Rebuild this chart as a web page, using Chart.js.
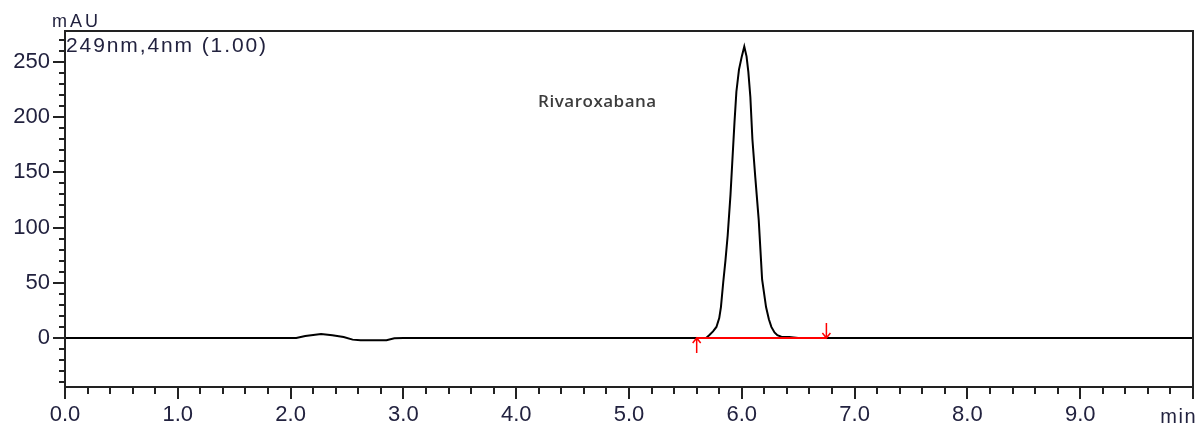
<!DOCTYPE html>
<html>
<head>
<meta charset="utf-8">
<script src="https://cdn.jsdelivr.net/npm/chart.js@4/dist/chart.umd.min.js"></script>
<style>
  html, body { margin: 0; padding: 0; background: #fff; }
  #wrap { width: 1197px; height: 425px; }
</style>
</head>
<body>
<div id="wrap"><canvas id="chrom"></canvas></div>
<script>
// retention time (min) and absorbance (mAU) of the trace
var times = [0, 2.05, 2.13, 2.27, 2.37, 2.47, 2.55, 2.62, 2.85, 2.92, 3.0,
    5.6, 5.686, 5.713, 5.745, 5.775, 5.80, 5.815, 5.835, 5.855, 5.875, 5.90, 5.915,
    5.935, 5.952, 5.975, 6.0, 6.022, 6.042, 6.058, 6.076, 6.094, 6.12, 6.15, 6.165,
    6.18, 6.215, 6.24, 6.262, 6.29, 6.315, 6.35, 6.42, 6.5, 10];
var signal = [0, 0, 1.8, 3.5, 2.5, 0.8, -1.5, -2, -2, -0.3, 0,
    0, 0.3, 2.7, 6, 10, 18, 28, 50, 70, 93, 130, 158,
    195, 223, 243, 255, 264, 255, 241, 218, 180, 145, 107, 80,
    53, 28, 17, 10, 5, 2.5, 1.2, 0.8, 0, 0];

// integration baseline of the peak
var baseTimes = [5.6, 6.75];
var baseValues = [0, 0];

var peakName = 'Rivaroxabana';
var peakLabelAt = [4.72, 215];
var channelText = '249nm,4nm (1.00)';

var xMajor = [0, 1, 2, 3, 4, 5, 6, 7, 8, 9, 10];
var xTicks = [];
for (var i = 0; i <= 50; i++) xTicks.push(Math.round(i * 2) / 10);
var yTicks = [];
for (var v = -40; v <= 270; v += 10) yTicks.push(v);

var labelFont = { family: 'Liberation Sans', size: 22 };
var labelColor = '#22223f';

function pts(xs, ys) {
    return xs.map(function (x, k) { return { x: x, y: ys[k] }; });
}

// frame, minor/major ticks, texts and integration marks
var decorations = {
    id: 'decorations',
    afterDatasetsDraw: function (chart) {
        var ctx = chart.ctx;
        var a = chart.chartArea;
        var xs = chart.scales.x, ys = chart.scales.y;
        ctx.save();

        // plot frame
        ctx.strokeStyle = '#222';
        ctx.lineWidth = 2;
        ctx.strokeRect(a.left, a.top, a.right - a.left, a.bottom - a.top);

        // ticks
        ctx.lineWidth = 2;
        ctx.beginPath();
        xTicks.forEach(function (t) {
            var px = Math.round(xs.getPixelForValue(t));
            var len = (Math.abs(t - Math.round(t)) < 1e-6) ? 12 : 7;
            ctx.moveTo(px, a.bottom);
            ctx.lineTo(px, a.bottom + len);
        });
        yTicks.forEach(function (t) {
            var py = Math.round(ys.getPixelForValue(t));
            var len = (t % 50 === 0) ? 12 : 6;
            ctx.moveTo(a.left, py);
            ctx.lineTo(a.left - len, py);
        });
        ctx.stroke();

        // integration arrows
        ctx.strokeStyle = '#ff0000';
        ctx.lineWidth = 1.5;
        var y0 = ys.getPixelForValue(0);
        var xa = xs.getPixelForValue(baseTimes[0]);
        var xb = xs.getPixelForValue(baseTimes[1]);
        ctx.beginPath();
        ctx.moveTo(xa, y0); ctx.lineTo(xa, y0 + 15);
        ctx.moveTo(xa - 4, y0 + 5); ctx.lineTo(xa, y0); ctx.lineTo(xa + 4, y0 + 5);
        ctx.moveTo(xb, y0); ctx.lineTo(xb, y0 - 15);
        ctx.moveTo(xb - 4, y0 - 5); ctx.lineTo(xb, y0); ctx.lineTo(xb + 4, y0 - 5);
        ctx.stroke();

        // texts
        ctx.fillStyle = labelColor;
        ctx.textBaseline = 'alphabetic';
        ctx.font = '21px "Liberation Sans"';
        ctx.letterSpacing = '1.9px';
        ctx.textAlign = 'left';
        ctx.fillText(channelText, a.left + 1, a.top + 21);

        ctx.font = '18px "Liberation Sans"';
        ctx.letterSpacing = '3px';
        ctx.fillText('mAU', 52, 27);

        ctx.textAlign = 'right';
        ctx.font = '20px "Liberation Sans"';
        ctx.letterSpacing = '1.5px';
        ctx.fillText('min', 1197, 423);

        ctx.fillStyle = '#3c3c3c';
        ctx.font = '600 17px "Open Sans"';
        ctx.letterSpacing = '0.5px';
        ctx.textAlign = 'center';
        ctx.fillText(peakName, xs.getPixelForValue(peakLabelAt[0]), ys.getPixelForValue(peakLabelAt[1]) + 6);

        ctx.restore();
    }
};

new Chart(document.getElementById('chrom').getContext('2d'), {
    type: 'line',
    data: {
        datasets: [{
            data: pts(baseTimes, baseValues),
            borderColor: '#ff0000',
            borderWidth: 2,
            pointRadius: 0,
            order: 0
        }, {
            data: pts(times, signal),
            borderColor: '#000000',
            borderWidth: 2,
            pointRadius: 0,
            tension: 0,
            order: 1
        }]
    },
    plugins: [decorations],
    options: {
        responsive: true,
        maintainAspectRatio: false,
        animation: false,
        layout: { padding: { top: 31, right: 4, left: 0, bottom: 0 } },
        plugins: { legend: { display: false }, tooltip: { enabled: false } },
        scales: {
            x: {
                type: 'linear',
                min: 0,
                max: 10,
                grid: { display: false, drawTicks: false },
                border: { display: false },
                afterBuildTicks: function (scale) {
                    scale.ticks = xMajor.map(function (t) { return { value: t }; });
                },
                afterFit: function (scale) {
                    scale.height = 38;
                    scale.paddingLeft = 0;
                    scale.paddingRight = 0;
                },
                ticks: {
                    autoSkip: false,
                    maxRotation: 0,
                    padding: 15,
                    font: labelFont,
                    color: labelColor,
                    callback: function (value) { return value === 10 ? '' : value.toFixed(1); }
                }
            },
            y: {
                min: -44.4,
                max: 278,
                grid: { display: false, drawTicks: false },
                border: { display: false },
                afterBuildTicks: function (scale) {
                    scale.ticks = yTicks.filter(function (t) { return t % 50 === 0; })
                        .map(function (t) { return { value: t }; });
                },
                afterFit: function (scale) {
                    scale.width = 65;
                    scale.paddingTop = 0;
                    scale.paddingBottom = 0;
                },
                ticks: {
                    autoSkip: false,
                    padding: 15,
                    font: labelFont,
                    color: labelColor,
                    callback: function (value) { return String(value); }
                }
            }
        }
    }
});
</script>
</body>
</html>
